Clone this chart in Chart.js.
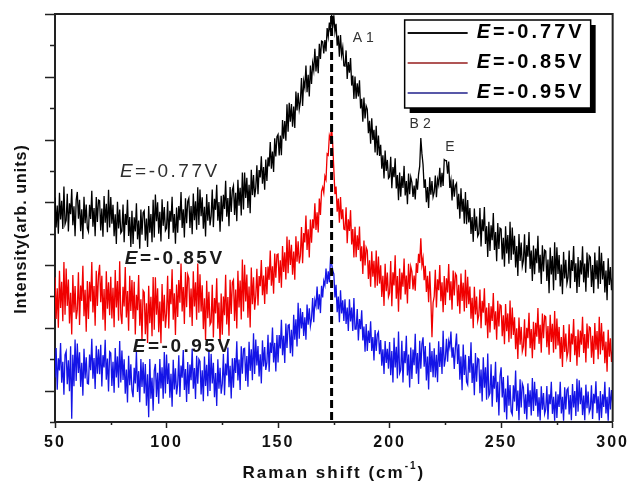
<!DOCTYPE html>
<html>
<head>
<meta charset="utf-8">
<script src="https://cdn.jsdelivr.net/npm/chart.js@4.4.1/dist/chart.umd.min.js"></script>
<style>
  html, body { margin: 0; padding: 0; background: #fff; }
  #wrap { width: 631px; height: 482px; position: relative; }
</style>
</head>
<body>
<div id="wrap"><canvas id="raman"></canvas></div>
<script>
// ===== Data =====
// Raman shift grid (cm-1), sampled every 0.5 cm-1
const shiftStart = 50, shiftStep = 0.5, shiftCount = 501;
const shifts = [];
for (let i = 0; i < shiftCount; i++) shifts.push(shiftStart + i * shiftStep);

// electrode potentials (V)
const potentials = ['-0.77', '-0.85', '-0.95'];

// intensities (arb. units), offset spectra, one row = 5 cm-1
const intensity077 = [
  715, 620, 690, 600, 730, 645, 705, 615, 750, 630,
  642, 727, 607, 697, 662, 742, 627, 687, 592, 707,
  733, 648, 708, 608, 678, 583, 718, 633, 693, 618,
  607, 692, 647, 737, 622, 682, 592, 717, 637, 707,
  705, 610, 680, 590, 720, 635, 695, 605, 740, 620,
  717, 632, 692, 592, 662, 567, 702, 617, 677, 602,
  608, 693, 573, 663, 628, 708, 593, 653, 558, 673,
  567, 652, 607, 697, 582, 642, 552, 677, 597, 667,
  673, 578, 648, 558, 688, 603, 663, 573, 708, 588,
  725, 640, 700, 600, 670, 575, 710, 625, 685, 610,
  618, 703, 583, 673, 638, 718, 603, 663, 568, 683,
  603, 688, 643, 733, 618, 678, 588, 713, 633, 703,
  713, 618, 688, 598, 728, 643, 703, 613, 748, 628,
  741, 656, 716, 616, 686, 591, 726, 641, 701, 626,
  656, 741, 621, 711, 676, 756, 641, 701, 606, 721,
  639, 724, 679, 769, 654, 714, 624, 749, 669, 739,
  753, 660, 730, 640, 772, 689, 746, 658, 795, 677,
  795, 714, 778, 682, 756, 665, 804, 723, 787, 716,
  746, 818, 726, 803, 779, 847, 759, 812, 740, 836,
  768, 843, 814, 892, 807, 862, 797, 904, 846, 909,
  916, 849, 913, 850, 962, 903, 959, 896, 1012, 925,
  1017, 957, 1013, 941, 1005, 937, 1053, 993, 1049, 997,
  1021, 1096, 1007, 1086, 1065, 1136, 1051, 1106, 1037, 1136,
  1077, 1143, 1120, 1189, 1117, 1166, 1111, 1205, 1157, 1214,
  1212, 1174, 1217, 1181, 1255, 1228, 1273, 1242, 1298, 1255,
  1296, 1243, 1269, 1199, 1231, 1164, 1233, 1169, 1193, 1135,
  1134, 1184, 1093, 1147, 1113, 1160, 1072, 1104, 1029, 1101,
  1030, 1079, 1037, 1089, 999, 1030, 957, 1034, 967, 1007,
  996, 920, 960, 887, 968, 899, 931, 859, 944, 850,
  913, 848, 883, 807, 850, 776, 865, 800, 835, 776,
  781, 845, 745, 812, 780, 840, 744, 787, 707, 795,
  718, 784, 746, 816, 722, 768, 694, 792, 726, 780,
  764, 717, 753, 709, 776, 740, 790, 815, 905, 855,
  820, 746, 773, 700, 749, 682, 780, 724, 768, 717,
  732, 785, 716, 773, 756, 810, 748, 794, 752, 836,
  833, 833, 791, 830, 746, 770, 706, 773, 718, 754,
  761, 678, 727, 648, 745, 670, 711, 632, 733, 630,
  707, 636, 682, 599, 653, 574, 680, 609, 655, 592,
  600, 682, 559, 646, 608, 685, 567, 624, 526, 638,
  545, 627, 579, 666, 548, 605, 512, 634, 551, 618,
  615, 518, 587, 495, 624, 537, 596, 504, 638, 516,
  620, 534, 593, 492, 561, 465, 599, 513, 572, 496,
  515, 598, 476, 564, 527, 605, 488, 546, 449, 562,
  471, 553, 506, 593, 476, 533, 440, 563, 480, 548,
  545, 449, 518, 410, 556, 470, 529, 420, 573, 452,
  557, 472, 532, 432, 502, 407, 542, 457, 517, 442,
  461, 546, 426, 516, 481, 561, 446, 506, 411, 526,
  430, 515, 470, 560, 445, 505, 415, 540, 460, 530,
  525, 430, 500, 410, 540, 455, 515, 425, 560, 440,
  539, 454, 513, 413, 483, 388, 522, 437, 494, 420,
  462
];
const intensity085 = [
  461, 328, 426, 300, 482, 363, 447, 321, 510, 342,
  489, 370, 454, 314, 412, 279, 468, 349, 433, 328,
  358, 477, 309, 435, 386, 498, 337, 421, 288, 449,
  328, 447, 384, 510, 349, 433, 307, 482, 370, 468,
  501, 382, 466, 326, 424, 291, 480, 361, 445, 340,
  463, 330, 428, 302, 484, 365, 449, 323, 512, 344,
  312, 431, 368, 494, 333, 417, 291, 466, 354, 452,
  328, 447, 279, 405, 356, 468, 307, 391, 258, 419,
  413, 280, 378, 252, 434, 315, 399, 273, 462, 294,
  461, 342, 426, 286, 384, 251, 440, 321, 405, 300,
  347, 466, 298, 424, 375, 487, 326, 410, 277, 438,
  335, 452, 380, 505, 352, 430, 312, 478, 366, 470,
  458, 334, 425, 306, 480, 368, 445, 326, 505, 348,
  471, 352, 436, 296, 394, 261, 450, 331, 415, 310,
  318, 437, 269, 395, 346, 458, 297, 381, 248, 409,
  278, 400, 340, 469, 311, 398, 275, 453, 344, 445,
  453, 322, 422, 298, 482, 365, 451, 327, 518, 352,
  501, 384, 470, 332, 432, 301, 492, 375, 461, 358,
  400, 488, 371, 465, 433, 516, 404, 467, 376, 494,
  407, 495, 453, 546, 434, 496, 409, 537, 460, 533,
  535, 443, 515, 428, 561, 478, 541, 454, 591, 474,
  581, 500, 565, 469, 543, 453, 592, 511, 576, 505,
  530, 621, 506, 602, 572, 658, 548, 614, 524, 645,
  571, 646, 617, 697, 612, 668, 604, 712, 660, 736,
  748, 730, 783, 772, 854, 850, 912, 898, 940, 884,
  805, 726, 750, 670, 712, 635, 717, 646, 678, 615,
  613, 684, 570, 646, 609, 675, 566, 615, 524, 622,
  525, 595, 548, 623, 512, 560, 472, 578, 499, 556,
  546, 456, 515, 431, 544, 463, 514, 428, 546, 434,
  527, 441, 499, 398, 466, 370, 504, 417, 476, 399,
  411, 513, 369, 477, 435, 531, 393, 465, 351, 489,
  390, 476, 431, 521, 406, 467, 378, 504, 424, 495,
  479, 422, 467, 418, 506, 475, 536, 507, 585, 500,
  522, 452, 498, 414, 466, 382, 480, 392, 270, 380,
  400, 485, 365, 455, 420, 500, 385, 445, 350, 465,
  373, 458, 413, 503, 388, 448, 358, 483, 403, 473,
  466, 369, 437, 345, 473, 386, 444, 352, 485, 363,
  463, 375, 432, 329, 396, 299, 431, 343, 400, 322,
  340, 422, 299, 386, 348, 426, 308, 365, 267, 379,
  285, 369, 322, 411, 295, 353, 262, 386, 304, 373,
  370, 273, 340, 248, 376, 289, 346, 254, 387, 265,
  365, 277, 334, 232, 299, 201, 333, 246, 303, 225,
  241, 327, 209, 300, 267, 348, 235, 296, 203, 319,
  230, 316, 272, 363, 249, 310, 221, 346, 267, 338,
  335, 238, 306, 214, 342, 255, 313, 221, 354, 232,
  330, 244, 303, 202, 271, 175, 309, 223, 282, 206,
  225, 311, 191, 282, 247, 328, 213, 274, 179, 295,
  206, 291, 246, 335, 220, 280, 190, 314, 234, 303,
  300, 205, 275, 185, 315, 230, 290, 200, 335, 215,
  315, 229, 288, 187, 256, 160, 294, 208, 267, 191,
  230
];
const intensity095 = [
  142, 236, 103, 203, 164, 252, 125, 192, 87, 214,
  225, 120, 197, 98, 241, 10, 214, 114, 263, 131,
  250, 156, 222, 112, 189, 84, 233, 139, 206, 123,
  121, 215, 165, 265, 138, 204, 105, 243, 154, 232,
  152, 246, 113, 213, 174, 262, 135, 202, 97, 224,
  220, 115, 192, 93, 236, 142, 209, 109, 258, 126,
  228, 134, 200, 90, 167, 62, 211, 117, 184, 101,
  79, 173, 123, 223, 96, 162, 63, 201, 112, 190,
  91, 185, 52, 152, 15, 201, 74, 141, 36, 163,
  185, 80, 157, 58, 201, 107, 174, 74, 223, 91,
  215, 121, 187, 77, 154, 49, 198, 104, 171, 88,
  119, 213, 80, 180, 141, 229, 102, 169, 64, 191,
  89, 183, 133, 233, 106, 172, 73, 211, 122, 200,
  193, 88, 165, 66, 209, 115, 182, 82, 231, 99,
  217, 123, 189, 79, 156, 51, 200, 106, 173, 90,
  122, 217, 85, 186, 148, 237, 111, 179, 75, 203,
  109, 204, 156, 257, 132, 199, 102, 241, 154, 233,
  235, 131, 210, 112, 256, 163, 232, 133, 283, 153,
  263, 180, 242, 145, 216, 123, 260, 177, 239, 166,
  190, 278, 160, 253, 220, 301, 190, 252, 161, 277,
  190, 277, 234, 326, 213, 275, 188, 314, 236, 308,
  310, 219, 294, 209, 342, 262, 327, 241, 380, 265,
  362, 298, 350, 274, 334, 262, 374, 310, 362, 306,
  329, 395, 318, 388, 370, 432, 359, 407, 347, 434,
  397, 449, 435, 489, 440, 480, 445, 518, 505, 482,
  472, 397, 437, 350, 400, 318, 420, 346, 388, 322,
  391, 312, 365, 290, 391, 320, 365, 290, 395, 296,
  296, 360, 260, 328, 296, 356, 260, 304, 224, 312,
  226, 291, 252, 321, 226, 271, 196, 293, 226, 279,
  287, 216, 261, 179, 232, 153, 258, 188, 233, 170,
  255, 149, 226, 126, 268, 174, 240, 139, 288, 155,
  165, 259, 126, 226, 187, 275, 148, 215, 110, 237,
  137, 231, 181, 281, 154, 220, 121, 259, 170, 248,
  270, 176, 242, 132, 209, 104, 253, 159, 226, 143,
  235, 142, 214, 127, 257, 175, 239, 153, 291, 176,
  202, 265, 192, 257, 238, 288, 205, 238, 169, 238,
  282, 185, 248, 135, 209, 101, 247, 150, 214, 128,
  119, 210, 157, 254, 124, 187, 85, 220, 128, 203,
  200, 92, 167, 65, 206, 109, 174, 71, 218, 83,
  92, 184, 49, 147, 106, 192, 63, 128, 21, 146,
  174, 78, 143, 31, 107, 8, 148, 52, 118, 33,
  24, 117, 65, 164, 35, 100, 6, 136, 46, 122,
  110, 26, 88, 8, 123, 48, 101, 21, 140, 35,
  128, 52, 105, 17, 79, 5, 114, 39, 92, 26,
  40, 115, 8, 88, 57, 128, 26, 80, 4, 97,
  13, 88, 48, 128, 27, 80, 4, 111, 40, 102,
  108, 24, 86, 6, 121, 46, 99, 19, 138, 33,
  133, 57, 110, 22, 84, 6, 119, 44, 97, 31,
  42, 117, 10, 90, 59, 130, 28, 82, 5, 99,
  13, 88, 48, 128, 27, 80, 4, 111, 40, 102,
  60
];

// axis ticks
const xTickLabels = [50, 100, 150, 200, 250, 300];
const xMinorTicks = [75, 125, 175, 225, 275];
const yTicks = [0, 100, 200, 300, 400, 500, 600, 700, 800, 900, 1000, 1100, 1200, 1300];

// phonon modes and the A1 mode position
const peakLabels = ['A1', 'B2', 'E'];
const peakShift = 174;

// ===== Styles =====
const FONT = 'Arial, "Liberation Sans", sans-serif';
const lineColors = ['#000000', '#f00000', '#1414e6'];
const keyColors = ['#111111', '#b05555', '#5858a8'];

function potentialText(p) { return '=' + p + 'V'; }

// draws "E" in italics followed by "=-0.xxV"
function drawPotential(ctx, p, x, y, size, weight, color) {
  ctx.fillStyle = color;
  ctx.textBaseline = 'middle';
  ctx.textAlign = 'left';
  ctx.font = `italic ${weight} ${size}px ${FONT}`;
  ctx.fillText('E', x, y);
  const w = ctx.measureText('E').width;
  ctx.font = `${weight} ${size}px ${FONT}`;
  ctx.fillText(potentialText(p), x + w, y);
}

// ===== Frame, ticks, labels, legend =====
const decor = {
  id: 'decor',
  beforeDraw(chart) {
    chart.ctx.letterSpacing = '2px';
  },
  afterDatasetsDraw(chart) {
    const { ctx, chartArea: a, scales: { x, y } } = chart;
    ctx.save();

    // top and right edges of the frame
    ctx.strokeStyle = '#222';
    ctx.lineWidth = 2;
    ctx.beginPath();
    ctx.moveTo(a.left, a.top);
    ctx.lineTo(a.right, a.top);
    ctx.lineTo(a.right, a.bottom);
    ctx.stroke();

    // y ticks, long on odd hundreds
    ctx.lineWidth = 1.5;
    yTicks.forEach(v => {
      const py = Math.round(y.getPixelForValue(v)) + 0.5;
      const len = (v / 100) % 2 === 1 ? 10 : 5;
      ctx.beginPath();
      ctx.moveTo(a.left - len, py);
      ctx.lineTo(a.left, py);
      ctx.stroke();
    });
    // x minor ticks
    xMinorTicks.forEach(v => {
      const px = Math.round(x.getPixelForValue(v)) + 0.5;
      ctx.beginPath();
      ctx.moveTo(px, a.bottom);
      ctx.lineTo(px, a.bottom + 3);
      ctx.stroke();
    });

    // dashed marker through the A1 mode
    const mx = x.getPixelForValue(peakShift);
    ctx.strokeStyle = '#000';
    ctx.lineWidth = 3;
    ctx.setLineDash([8, 4]);
    ctx.beginPath();
    ctx.moveTo(mx, a.top + 2);
    ctx.lineTo(mx, a.bottom);
    ctx.stroke();
    ctx.setLineDash([]);

    // mode names
    const modeAt = [[188.2, 1223], [213.7, 949], [227.1, 876]];
    ctx.fillStyle = '#333';
    ctx.font = `14px ${FONT}`;
    ctx.letterSpacing = '4px';
    ctx.textAlign = 'center';
    ctx.textBaseline = 'middle';
    peakLabels.forEach((t, i) => {
      ctx.fillText(t, x.getPixelForValue(modeAt[i][0]) + 2, y.getPixelForValue(modeAt[i][1]));
    });

    // curve labels
    const curveAt = [[79.1, 797], [81.3, 519], [84.9, 239]];
    ctx.letterSpacing = '2.5px';
    potentials.forEach((p, i) => {
      const weight = i === 0 ? 'normal' : 'bold';
      const color = i === 0 ? '#2e2e2e' : '#1a1a1a';
      drawPotential(ctx, p, x.getPixelForValue(curveAt[i][0]), y.getPixelForValue(curveAt[i][1]), 19, weight, color);
    });

    // legend box with drop shadow
    const bx = a.right - 208, by = a.top + 6, bw = 186, bh = 88;
    ctx.fillStyle = '#000';
    ctx.fillRect(bx + 5, by + 5, bw, bh);
    ctx.fillStyle = '#fff';
    ctx.fillRect(bx, by, bw, bh);
    ctx.strokeStyle = '#000';
    ctx.lineWidth = 1.5;
    ctx.strokeRect(bx, by, bw, bh);
    ctx.letterSpacing = '3px';
    potentials.forEach((p, i) => {
      const ry = by + 13 + i * 30;
      ctx.strokeStyle = keyColors[i];
      ctx.lineWidth = 2;
      ctx.beginPath();
      ctx.moveTo(bx + 3, ry);
      ctx.lineTo(bx + 63, ry);
      ctx.stroke();
      drawPotential(ctx, p, bx + 72, ry - 1, 20, 'bold', '#000');
    });

    // axis titles
    ctx.fillStyle = '#111';
    ctx.textBaseline = 'alphabetic';
    ctx.textAlign = 'left';
    ctx.letterSpacing = '2px';
    const big = `bold 17px ${FONT}`, small = `bold 10px ${FONT}`;
    const parts = [['Raman shift (cm', big, 0], ['-1', small, -9], [')', big, 0]];
    let total = 0;
    parts.forEach(([t, f]) => { ctx.font = f; total += ctx.measureText(t).width; });
    let tx = (a.left + a.right) / 2 - total / 2;
    parts.forEach(([t, f, dy]) => {
      ctx.font = f;
      ctx.fillText(t, tx, 478 + dy);
      tx += ctx.measureText(t).width;
    });

    ctx.translate(22, 229);
    ctx.rotate(-Math.PI / 2);
    ctx.textAlign = 'center';
    ctx.textBaseline = 'middle';
    ctx.letterSpacing = '1px';
    ctx.font = `bold 16px ${FONT}`;
    ctx.fillText('Intensity(arb. units)', 0, 0);

    ctx.restore();
  }
};

// ===== Chart =====
const series = [intensity077, intensity085, intensity095];
const datasets = potentials.map((p, i) => ({
  label: 'E=' + p + 'V',
  data: shifts.map((s, j) => ({ x: s, y: series[i][j] })),
  borderColor: lineColors[i],
  borderWidth: 1.3,
  pointRadius: 0,
  tension: 0
}));

new Chart(document.getElementById('raman'), {
  type: 'line',
  data: { datasets },
  options: {
    responsive: true,
    maintainAspectRatio: false,
    animation: false,
    layout: { padding: { left: 0, right: 17, top: 14, bottom: 0 } },
    plugins: { legend: { display: false }, tooltip: { enabled: false } },
    scales: {
      x: {
        type: 'linear',
        min: 50,
        max: 300,
        afterBuildTicks: s => { s.ticks = xTickLabels.map(v => ({ value: v })); },
        afterFit: s => { s.height = 60; },
        ticks: { color: '#111', font: { family: FONT, size: 16, weight: 'bold' }, padding: 5, maxRotation: 0 },
        grid: { display: true, drawOnChartArea: false, drawTicks: true, tickLength: 6, tickColor: '#222', tickWidth: 1.5 },
        border: { display: true, color: '#222', width: 2 }
      },
      y: {
        min: 0,
        max: 1300,
        afterFit: s => { s.width = 55; },
        ticks: { display: false },
        grid: { display: false },
        border: { display: true, color: '#222', width: 2 }
      }
    }
  },
  plugins: [decor]
});
</script>
</body>
</html>
